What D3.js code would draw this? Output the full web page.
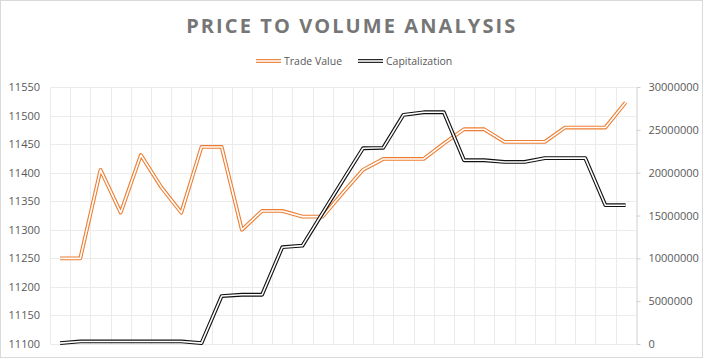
<!DOCTYPE html>
<html>
<head>
<meta charset="utf-8">
<script src="https://cdn.jsdelivr.net/npm/d3@7"></script>
<style>
  html, body { margin: 0; padding: 0; background: #fff; }
  svg { display: block; font-family: "Open Sans", sans-serif; }
</style>
</head>
<body>
<div id="chart"></div>
<script>
// categories have no visible labels, one per trading day
const days = [1, 2, 3, 4, 5, 6, 7, 8, 9, 10, 11, 12, 13, 14, 15, 16, 17, 18, 19, 20,
  21, 22, 23, 24, 25, 26, 27, 28, 29];

const tradeValue = [11250, 11250, 11405, 11330, 11431, 11375, 11330, 11445, 11445, 11300,
  11333, 11333, 11323, 11323, 11365, 11405, 11424, 11424, 11424, 11451,
  11476, 11476, 11454, 11454, 11454, 11479, 11479, 11479, 11523];

const capitalization = [100000, 300000, 300000, 300000, 300000, 300000, 300000, 100000, 5600000, 5750000,
  5750000, 11300000, 11480000, 15300000, 19100000, 22850000, 22900000, 26750000, 27050000, 27050000,
  21450000, 21450000, 21250000, 21250000, 21700000, 21700000, 21700000, 16200000, 16200000];

const leftTicks = [11100, 11150, 11200, 11250, 11300, 11350, 11400, 11450, 11500, 11550];
const rightTicks = [0, 5000000, 10000000, 15000000, 20000000, 25000000, 30000000];

const width = 704;
const height = 359;
const plot = { left: 50, right: 635.7, top: 87, bottom: 344 };

const svg = d3.select("#chart")
  .append("svg")
  .attr("width", width)
  .attr("height", height);

svg.append("rect")
  .attr("x", 0.5).attr("y", 0.5)
  .attr("width", 702).attr("height", 357)
  .attr("fill", "#fff")
  .attr("stroke", "#d9d9d9");

const x = d3.scaleBand().domain(days).range([plot.left, plot.right]).padding(0);
const yL = d3.scaleLinear().domain([11100, 11550]).range([plot.bottom, plot.top]);
const yR = d3.scaleLinear().domain([0, 30000000]).range([plot.bottom, plot.top]);

// grid
const grid = svg.append("g").attr("stroke", "#ebebeb").attr("stroke-width", 1);
grid.selectAll("line.h")
  .data(leftTicks)
  .join("line")
  .attr("class", "h")
  .attr("x1", plot.left).attr("x2", plot.right)
  .attr("y1", (d) => Math.round(yL(d)) + 0.5)
  .attr("y2", (d) => Math.round(yL(d)) + 0.5);
grid.selectAll("line.v")
  .data(days)
  .join("line")
  .attr("class", "v")
  .attr("x1", (d) => Math.round(x(d)) + 0.5)
  .attr("x2", (d) => Math.round(x(d)) + 0.5)
  .attr("y1", plot.top).attr("y2", plot.bottom);

// left axis (labels only)
const axL = svg.append("g")
  .attr("transform", `translate(${plot.left},0)`)
  .call(d3.axisLeft(yL).tickValues(leftTicks).tickSize(0).tickPadding(10).tickFormat(d3.format("d")));
axL.select(".domain").remove();
axL.selectAll("text")
  .attr("font-family", "'Open Sans', sans-serif")
  .attr("font-size", 11)
  .attr("fill", "#595959");

// right axis
const axR = svg.append("g")
  .attr("transform", `translate(${Math.round(plot.right) + 0.5},0)`)
  .call(d3.axisRight(yR).tickValues(rightTicks).tickSize(4).tickSizeOuter(0).tickPadding(8).tickFormat(d3.format("d")));
axR.select(".domain").attr("stroke", "#d0d0d0");
axR.selectAll(".tick line").attr("stroke", "#d0d0d0");
axR.selectAll("text")
  .attr("font-family", "'Open Sans', sans-serif")
  .attr("font-size", 11)
  .attr("fill", "#595959");

// double lines
function doubleLine(values, yScale, color) {
  const line = d3.line()
    .x((d, i) => x(days[i]) + x.bandwidth() / 2)
    .y((d) => yScale(d));
  const g = svg.append("g").attr("fill", "none").attr("stroke-linejoin", "round");
  g.append("path").attr("d", line(values)).attr("stroke", color).attr("stroke-width", 3.8);
  g.append("path").attr("d", line(values)).attr("stroke", "#fff").attr("stroke-width", 1.6);
}

doubleLine(tradeValue, yL, "#ed7d31");
doubleLine(capitalization, yR, "#111");

// title
svg.append("text")
  .attr("x", 350.7)
  .attr("y", 33)
  .attr("text-anchor", "middle")
  .attr("font-size", 20)
  .attr("font-weight", "bold")
  .attr("fill", "#767676")
  .attr("textLength", 329)
  .attr("lengthAdjust", "spacing")
  .text("PRICE TO VOLUME ANALYSIS");

// legend
const legendData = [
  { label: "Trade Value", color: "#ed7d31", x: 256 },
  { label: "Capitalization", color: "#111", x: 358 },
];
legendData.forEach((item) => {
  const g = svg.append("g");
  g.append("line")
    .attr("x1", item.x).attr("x2", item.x + 25)
    .attr("y1", 61).attr("y2", 61)
    .attr("stroke", item.color).attr("stroke-width", 3.8);
  g.append("line")
    .attr("x1", item.x).attr("x2", item.x + 25)
    .attr("y1", 61).attr("y2", 61)
    .attr("stroke", "#fff").attr("stroke-width", 1.6);
  g.append("text")
    .attr("x", item.x + 28)
    .attr("y", 64.5)
    .attr("font-size", 10.5)
    .attr("fill", "#595959")
    .text(item.label);
});
</script>
</body>
</html>
